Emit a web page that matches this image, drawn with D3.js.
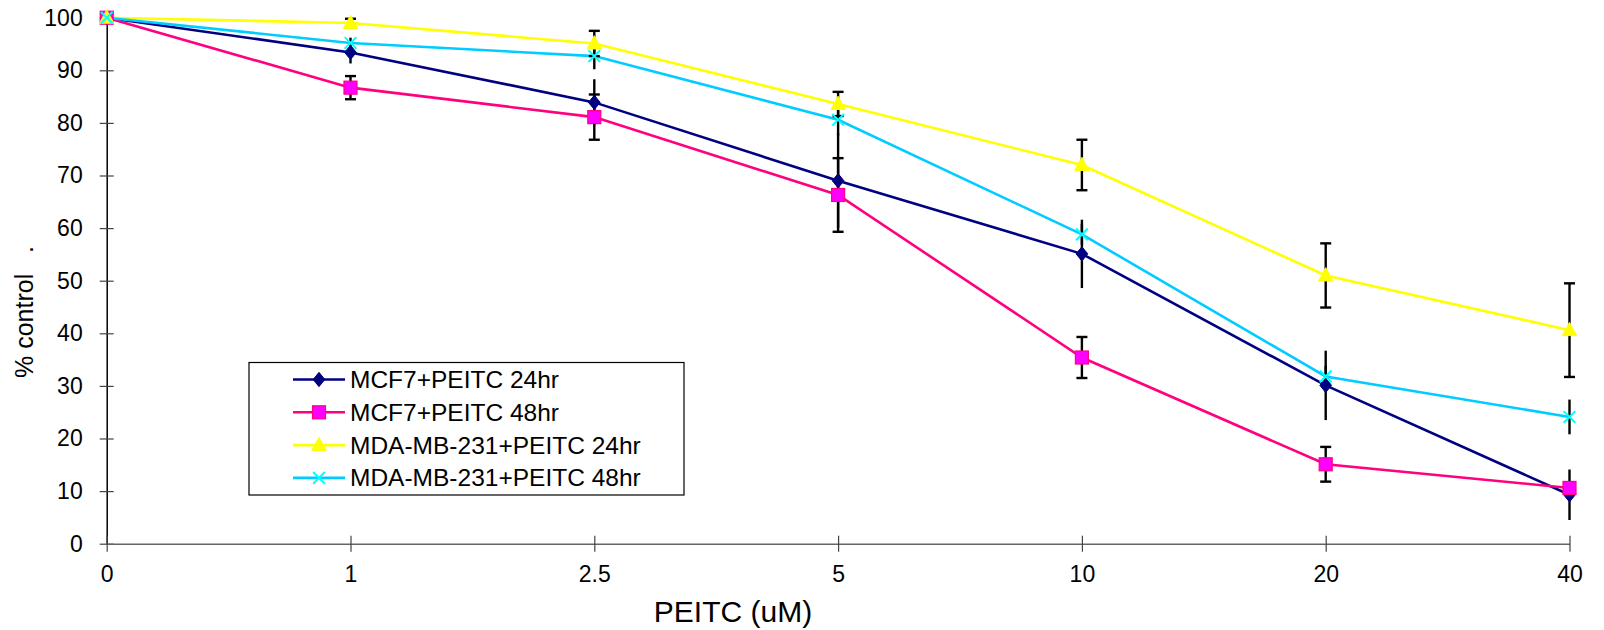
<!DOCTYPE html>
<html>
<head>
<meta charset="utf-8">
<script src="https://cdn.jsdelivr.net/npm/d3@7"></script>
<style>
  body { margin: 0; background: #fff; }
  svg { display: block; font-family: "Liberation Sans", Arial, sans-serif; }
</style>
</head>
<body>
<div id="chart"></div>
<script>
// PEITC dose (uM), one category per tick
const doses = ["0", "1", "2.5", "5", "10", "20", "40"];
const yTicks = [0, 10, 20, 30, 40, 50, 60, 70, 80, 90, 100];

// % control
const mcf7_24 = [100, 93.4, 83.9, 69.0, 55.1, 30.1, 9.3];
const mcf7_48 = [100, 86.7, 81.1, 66.3, 35.4, 15.1, 10.6];
const mda_24 = [100, 99.0, 95.1, 83.6, 72.0, 51.0, 40.6];
const mda_48 = [100, 95.2, 92.7, 80.6, 58.8, 31.8, 24.1];

// error bar half-lengths
const mcf7_24_err = [0, 2.1, 4.4, 9.0, 6.5, 6.6, 4.8];
const mcf7_48_err = [0, 2.2, 4.3, 7.0, 3.9, 3.3, 1.0];
const mda_24_err = [0, 0.8, 2.4, 2.3, 4.8, 6.1, 8.9];
const mda_48_err = [0, 1.0, 2.5, 3.0, 2.0, 2.0, 3.3];

const seriesNames = ["MCF7+PEITC 24hr", "MCF7+PEITC 48hr", "MDA-MB-231+PEITC 24hr", "MDA-MB-231+PEITC 48hr"];

const series = [
  {name: seriesNames[0], values: mcf7_24, err: mcf7_24_err, line: "#000080", fill: "#000080", stroke: "#000080", shape: "diamond", caps: false},
  {name: seriesNames[1], values: mcf7_48, err: mcf7_48_err, line: "#FF0080", fill: "#FF00FF", stroke: "#FF0080", shape: "square", caps: true},
  {name: seriesNames[2], values: mda_24, err: mda_24_err, line: "#FFFF00", fill: "#FFFF00", stroke: "#FFFF00", shape: "triangle", caps: true},
  {name: seriesNames[3], values: mda_48, err: mda_48_err, line: "#00CCFF", fill: "none", stroke: "#00FFFF", shape: "cross", caps: false}
];

const width = 1604, height = 630;

const svg = d3.select("#chart").append("svg")
  .attr("width", width)
  .attr("height", height);

svg.append("rect").attr("width", width).attr("height", height).attr("fill", "#fff");

const x = d3.scalePoint().domain(doses).range([106.7, 1569.5]);
const y = d3.scaleLinear().domain([0, 100]).range([543.7, 17.7]);

// title, sits above the visible area in the original, only its foot shows
svg.append("text")
  .attr("x", 867)
  .attr("y", -2)
  .attr("text-anchor", "middle")
  .attr("font-size", 26)
  .attr("fill", "#000")
  .text("Effect of PEITC on breast cancer cell lines");

// axes
const yAxisG = svg.append("g")
  .attr("transform", `translate(${x("0")},0)`)
  .call(d3.axisLeft(y).tickValues(yTicks).tickSize(7).tickPadding(17).tickSizeOuter(0));
yAxisG.select(".domain").attr("stroke", "#000").attr("stroke-width", 1.5);
yAxisG.selectAll(".tick line").attr("x1", 7).attr("stroke", "#444").attr("stroke-width", 1.2);
yAxisG.selectAll(".tick text").attr("font-size", 23).attr("fill", "#000")
  .attr("font-family", "Liberation Sans, Arial, sans-serif");

const xAxisG = svg.append("g")
  .attr("transform", `translate(0,${y(0)})`)
  .call(d3.axisBottom(x).tickSize(8).tickPadding(14).tickSizeOuter(0));
xAxisG.select(".domain").attr("stroke", "#666").attr("stroke-width", 1.5);
xAxisG.selectAll(".tick line").attr("y1", -8).attr("stroke", "#444").attr("stroke-width", 1.2);
xAxisG.selectAll(".tick text").attr("font-size", 23).attr("fill", "#000")
  .attr("font-family", "Liberation Sans, Arial, sans-serif");

// axis titles
svg.append("text")
  .attr("transform", "translate(33,312) rotate(-90)")
  .attr("text-anchor", "middle")
  .attr("font-size", 25)
  .style("white-space", "pre")
  .text("% control   .");

svg.append("text")
  .attr("x", 733)
  .attr("y", 622)
  .attr("text-anchor", "middle")
  .attr("font-size", 30)
  .text("PEITC (uM)");

// marker shapes
function marker(g, s, cx, cy, size) {
  if (s.shape === "diamond") {
    g.append("path")
      .attr("d", `M${cx},${cy - size * 0.55}L${cx + size * 0.45},${cy}L${cx},${cy + size * 0.55}L${cx - size * 0.45},${cy}Z`)
      .attr("fill", s.fill).attr("stroke", s.stroke);
  } else if (s.shape === "square") {
    g.append("rect")
      .attr("x", cx - size / 2).attr("y", cy - size / 2)
      .attr("width", size).attr("height", size)
      .attr("fill", s.fill).attr("stroke", s.stroke).attr("stroke-width", 1.2);
  } else if (s.shape === "triangle") {
    g.append("path")
      .attr("d", `M${cx},${cy - size * 0.6}L${cx + size * 0.55},${cy + size * 0.42}L${cx - size * 0.55},${cy + size * 0.42}Z`)
      .attr("fill", s.fill).attr("stroke", s.stroke);
  } else {
    const h = size * 0.45;
    g.append("path")
      .attr("d", `M${cx - h},${cy - h}L${cx + h},${cy + h}M${cx - h},${cy + h}L${cx + h},${cy - h}`)
      .attr("fill", "none").attr("stroke", s.stroke).attr("stroke-width", 2);
  }
}

const line = d3.line().x((d, i) => x(doses[i])).y(d => y(d));

// lines
svg.append("g").selectAll("path")
  .data(series)
  .join("path")
  .attr("d", d => line(d.values))
  .attr("fill", "none")
  .attr("stroke", d => d.line)
  .attr("stroke-width", 2.6);

// error bars
const errG = svg.append("g").attr("stroke", "#000").attr("stroke-width", 2.4);
series.forEach(s => {
  s.values.forEach((v, i) => {
    const e = s.err[i];
    if (!e) return;
    const cx = x(doses[i]);
    errG.append("line").attr("x1", cx).attr("x2", cx).attr("y1", y(v + e)).attr("y2", y(v - e));
    if (s.caps) {
      [v + e, v - e].forEach(t => {
        errG.append("line").attr("x1", cx - 5.5).attr("x2", cx + 5.5).attr("y1", y(t)).attr("y2", y(t));
      });
    }
  });
});

// markers
const markG = svg.append("g");
series.forEach(s => {
  s.values.forEach((v, i) => marker(markG, s, x(doses[i]), y(v), 13));
});

// legend
const legend = svg.append("g");
legend.append("rect")
  .attr("x", 249).attr("y", 362.5)
  .attr("width", 435).attr("height", 132.5)
  .attr("fill", "#fff").attr("stroke", "#000").attr("stroke-width", 1.2);

series.forEach((s, i) => {
  const ly = 379.5 + i * 32.8;
  legend.append("line")
    .attr("x1", 293).attr("x2", 345).attr("y1", ly).attr("y2", ly)
    .attr("stroke", s.line).attr("stroke-width", 2.6);
  marker(legend, s, 319, ly, 13);
  legend.append("text")
    .attr("x", 350).attr("y", ly)
    .attr("dy", "0.35em")
    .attr("font-size", 24.5)
    .text(s.name);
});
</script>
</body>
</html>
